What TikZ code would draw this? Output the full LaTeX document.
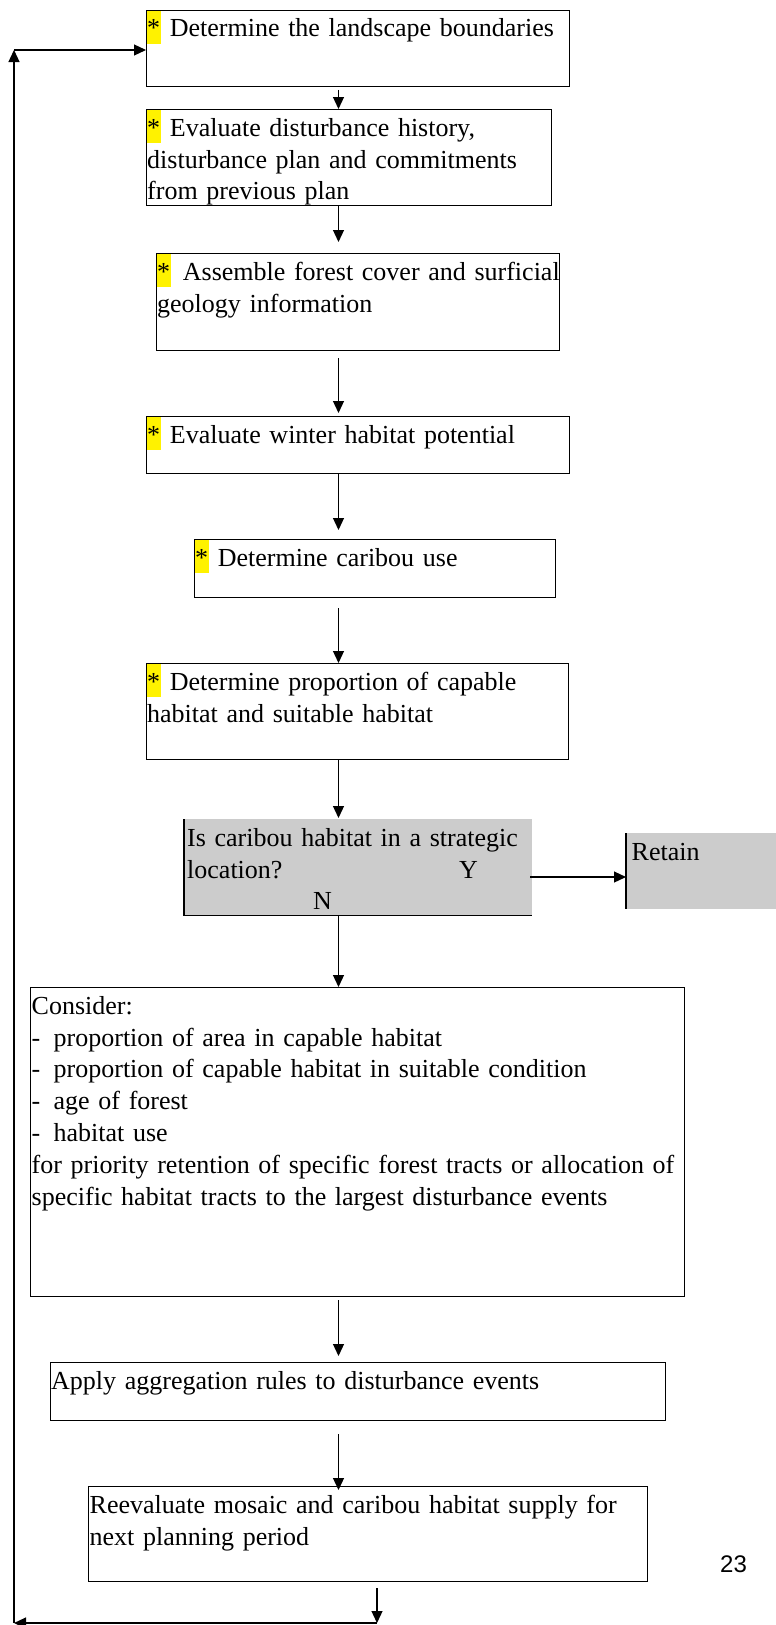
\documentclass[tikz,border=0pt]{standalone}
\usepackage{fontspec}
\setmainfont{Liberation Serif}
\newfontfamily\arialfont{Liberation Sans}
\usetikzlibrary{arrows.meta}
\newcommand\firststrut{\vrule height 27pt depth 0pt width 0pt}
\newcommand\hlstar{{\fboxsep=0pt\colorbox{yellow}{\vrule height 26pt depth 7pt width 0pt*\kern1pt}}}
\newcommand\itemdash{\makebox[22pt][l]{-}}
\begin{document}
\begin{tikzpicture}[x=1pt,y=-1pt,
  box/.style={draw=black, line width=1.3pt, rectangle, inner sep=0pt, anchor=north west},
  greybox/.style={fill=black!20, draw=none, rectangle, inner sep=0pt, anchor=north west},
  txt/.style={anchor=north west, inner sep=0pt, align=left, text width=#1, font=\fontsize{26}{31.8}\selectfont},
  txt/.default=800pt,
  arr/.style={-{Triangle[length=12pt,width=11pt]}, line width=1.2pt},
  edge/.style={line width=1.3pt}
]
\useasboundingbox (0,0) rectangle (776,1625);

% boxes
\node[box, minimum width=423pt, minimum height=76pt] (b1) at (146,9.5) {};
\node[box, minimum width=405pt, minimum height=96pt] (b2) at (146,109) {};
\node[box, minimum width=403pt, minimum height=97pt] (b3) at (156,253) {};
\node[box, minimum width=423pt, minimum height=57pt] (b4) at (146,416) {};
\node[box, minimum width=361pt, minimum height=58pt] (b5) at (194,539) {};
\node[box, minimum width=422pt, minimum height=96pt] (b6) at (146,663) {};
\node[greybox, minimum width=348pt, minimum height=96pt] (b7) at (184,819) {};
\draw[edge] (b7.north west) -- (b7.south west) -- (b7.south east);
\node[greybox, minimum width=160pt, minimum height=76pt] (ret) at (626,833) {};
\draw[edge] (ret.north west) -- (ret.south west);
\node[box, minimum width=654.5pt, minimum height=309pt] (b8) at (29.5,987) {};
\node[box, minimum width=615.5pt, minimum height=58pt] (b9) at (49.5,1362) {};
\node[box, minimum width=558.5pt, minimum height=95pt] (b10) at (88,1486) {};

% texts
\node[txt] (t1) at ([shift={(1,0)}]b1.north west) {\firststrut\hlstar{} Determine the landscape boundaries};
\node[txt] (t2) at ([shift={(1,0)}]b2.north west) {\firststrut\hlstar{} Evaluate disturbance history,\\disturbance plan and commitments\\from previous plan};
\node[txt] (t3) at ([shift={(1,0)}]b3.north west) {\firststrut\hlstar{}\kern3pt{} Assemble forest cover and surficial\\geology information};
\node[txt] (t4) at ([shift={(1,0)}]b4.north west) {\firststrut\hlstar{} Evaluate winter habitat potential};
\node[txt] (t5) at ([shift={(1,0)}]b5.north west) {\firststrut\hlstar{} Determine caribou use};
\node[txt] (t6) at ([shift={(1,0)}]b6.north west) {\firststrut\hlstar{} Determine proportion of capable\\habitat and suitable habitat};
\node[txt] (t7) at ([shift={(3,0)}]b7.north west) {\firststrut Is caribou habitat in a strategic\\\makebox[272pt][l]{location?}Y\\\hspace*{126pt}N};
\node[txt] (tr) at ([shift={(5.5,0)}]ret.north west) {\firststrut Retain};
\node[txt] (t8) at ([shift={(2,0)}]b8.north west) {\firststrut Consider:\\\itemdash proportion of area in capable habitat\\\itemdash proportion of capable habitat in suitable condition\\\itemdash age of forest\\\itemdash habitat use\\for priority retention of specific forest tracts or allocation of\\specific habitat tracts to the largest disturbance events};
\node[txt] (t9) at ([shift={(1.5,0)}]b9.north west) {\firststrut Apply aggregation rules to disturbance events};
\node[txt] (t10) at ([shift={(1.5,0)}]b10.north west) {\firststrut Reevaluate mosaic and caribou habitat supply for\\next planning period};
\node[anchor=base west, inner sep=0pt, font=\arialfont\fontsize{24}{28}\selectfont] (pg) at (720,1572) {23};

% connectors
\coordinate (cx) at (338.5,0);
\draw[arr, shorten <=3pt] (b1.south -| cx) -- (b2.north -| cx);
\draw[arr, shorten >=11pt] (b2.south -| cx) -- (b3.north -| cx);
\draw[arr, shorten <=7pt, shorten >=3pt] (b3.south -| cx) -- (b4.north -| cx);
\draw[arr, shorten >=9pt] (b4.south -| cx) -- (b5.north -| cx);
\draw[arr, shorten <=10pt] (b5.south -| cx) -- (b6.north -| cx);
\draw[arr, shorten >=1pt] (b6.south -| cx) -- (b7.north -| cx);
\draw[arr] (b7.south -| cx) -- (b8.north -| cx);
\draw[arr, shorten <=3pt, shorten >=6pt] (b8.south -| cx) -- (b9.north -| cx);
\draw[arr, shorten <=13pt, shorten >=-4pt] (b9.south -| cx) -- (b10.north -| cx);

\coordinate (ya) at (0,877);
\draw[arr] ([xshift=-2pt]b7.east |- ya) -- (ret.west |- ya);

\coordinate (br) at (377,1623);
\coordinate (bl) at (14,1623);
\coordinate (tl) at (14,50);
\draw[arr, shorten <=6pt] (b10.south -| br) -- (br);
\draw[arr] (br) -- (bl);
\draw[arr] (bl) -- (tl);
\draw[arr] (tl) -- (b1.west |- tl);
\end{tikzpicture}
\end{document}
